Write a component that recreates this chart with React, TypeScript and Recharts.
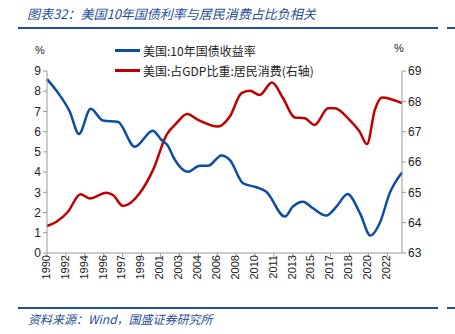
import React from "react";
import { LineChart, Line, XAxis, YAxis } from "recharts";

// tick labels on the date axis, one per tick position
const yearLabels = [
  "1990", "1992", "1994", "1996", "1997", "1999", "2001", "2003", "2004", "2006",
  "2008", "2010", "2011", "2013", "2015", "2017", "2018", "2020", "2022",
];

// x position in tick units (0 = 1990, 18 = 2022)
const yieldT = [0, 0.6, 1.2, 1.69, 2.31, 2.96, 3.76, 4.64, 5.6, 6.05, 6.4, 6.67, 7.46, 8.08, 8.52, 9.23, 9.67, 10.37, 11.08, 11.6, 12.58, 13.0, 13.54, 14.07, 14.78, 15.31, 15.9, 16.56, 17.11, 17.6, 18.13, 18.78];
const yieldVal = [8.6, 7.9, 7.0, 5.89, 7.13, 6.55, 6.48, 5.26, 6.05, 5.6, 5.3, 4.77, 4.02, 4.31, 4.31, 4.82, 4.6, 3.45, 3.25, 3.03, 1.8, 2.29, 2.54, 2.21, 1.85, 2.29, 2.92, 1.96, 0.86, 1.47, 2.96, 3.98];

const consT = [0, 0.5, 1.11, 1.77, 2.26, 3.14, 3.49, 4.02, 4.9, 5.61, 6.32, 6.85, 7.41, 7.99, 9.05, 9.67, 10.29, 10.73, 11.25, 11.9, 12.49, 13.1, 13.63, 14.16, 14.87, 15.22, 16.0, 16.54, 16.93, 17.34, 17.73, 18.78];
const consVal = [63.89, 64.03, 64.36, 64.94, 64.8, 64.99, 64.91, 64.55, 64.97, 65.74, 66.89, 67.28, 67.58, 67.39, 67.17, 67.5, 68.27, 68.35, 68.21, 68.62, 68.1, 67.47, 67.44, 67.22, 67.77, 67.77, 67.39, 67.0, 66.59, 67.71, 68.13, 67.94];

const leftTicks = [0, 1, 2, 3, 4, 5, 6, 7, 8, 9];
const rightTicks = [63, 64, 65, 66, 67, 68, 69];

const blue = "#0B4DA2";
const red = "#C00000";
const theme = "#1F4E9A";

const yieldData = yieldT.map((t, i) => ({ t, v: yieldVal[i] }));
const consData = consT.map((t, i) => ({ t, v: consVal[i] }));

const cjk = "'Noto Sans CJK SC', sans-serif";
const num = "'Liberation Sans', Arial, sans-serif";

function LegendBox() {
  const rows = [
    { color: blue, text: "美国:10年国债收益率" },
    { color: red, text: "美国:占GDP比重:居民消费(右轴)" },
  ];
  return (
    <div style={{ position: "absolute", left: 115, top: 40 }}>
      {rows.map((r) => (
        <div key={r.text} style={{ display: "flex", alignItems: "center", height: 20 }}>
          <div style={{ width: 25, height: 3, background: r.color, marginRight: 3 }} />
          <span style={{ fontFamily: cjk, fontSize: 12, color: "#222", whiteSpace: "nowrap" }}>{r.text}</span>
        </div>
      ))}
    </div>
  );
}

export default function App() {
  return (
    <div style={{ position: "absolute", left: 0, top: 0, width: 455, height: 334, background: "#fff" }}>
      <div style={{ position: "absolute", left: 27, top: 4, fontFamily: cjk, fontStyle: "italic", fontSize: 13, color: theme, whiteSpace: "nowrap" }}>
        图表32：美国10年国债利率与居民消费占比负相关
      </div>
      <div style={{ position: "absolute", left: 18, top: 27, width: 420, height: 2, background: theme }} />
      <div style={{ position: "absolute", left: 447, top: 27, width: 8, height: 2, background: theme }} />

      <div style={{ position: "absolute", left: 0, top: 0 }}>
        <LineChart width={455} height={300} margin={{ top: 71, right: 0, bottom: 0, left: 0 }}>
          <XAxis
            type="number"
            dataKey="t"
            domain={[0, 18.78]}
            ticks={yearLabels.map((_, i) => i)}
            tickFormatter={(i: number) => yearLabels[i]}
            interval={0}
            height={47}
            stroke="#999"
            tickSize={4}
            angle={-90}
            textAnchor="end"
            dy={-4}
            dx={-5}
            tick={{ fill: "#222", fontSize: 11, fontFamily: num }}
          />
          <YAxis
            yAxisId="l"
            domain={[0, 9]}
            ticks={leftTicks}
            width={47}
            stroke="#999"
            tickSize={4}
            tick={{ fill: "#222", fontSize: 12, fontFamily: num }}
          />
          <YAxis
            yAxisId="r"
            orientation="right"
            domain={[63, 69]}
            ticks={rightTicks}
            width={53}
            stroke="#999"
            tickSize={4}
            tick={{ fill: "#222", fontSize: 12, fontFamily: num }}
          />
          <Line yAxisId="r" data={consData} dataKey="v" type="monotone" stroke={red} strokeWidth={2.5} dot={false} isAnimationActive={false} />
          <Line yAxisId="l" data={yieldData} dataKey="v" type="monotone" stroke={blue} strokeWidth={2.5} dot={false} isAnimationActive={false} />
        </LineChart>
      </div>

      <LegendBox />
      <div style={{ position: "absolute", left: 35, top: 44, fontFamily: num, fontSize: 11, color: "#222" }}>%</div>
      <div style={{ position: "absolute", left: 394, top: 42, fontFamily: num, fontSize: 11, color: "#222" }}>%</div>

      <div style={{ position: "absolute", left: 18, top: 307, width: 420, height: 2, background: theme }} />
      <div style={{ position: "absolute", left: 447, top: 307, width: 8, height: 2, background: theme }} />
      <div style={{ position: "absolute", left: 28, top: 310, fontFamily: cjk, fontStyle: "italic", fontSize: 12, color: theme, whiteSpace: "nowrap" }}>
        资料来源：Wind，国盛证券研究所
      </div>
    </div>
  );
}
